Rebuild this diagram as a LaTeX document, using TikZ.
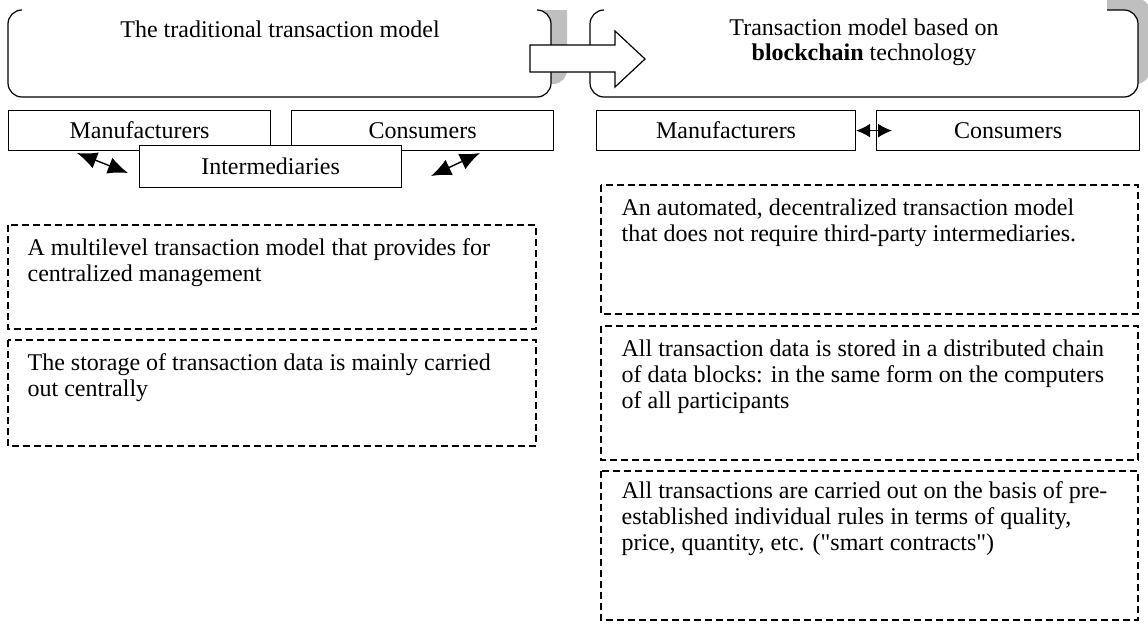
\documentclass[tikz,border=0pt]{standalone}
\usepackage{fontspec}
\setmainfont{Liberation Serif}
\usetikzlibrary{arrows.meta}

\begin{document}
\begin{tikzpicture}[x = 1pt, y = -1pt, line width = 1.2pt,
  plainbox/.style = {draw, fill = white, minimum height = 40pt, inner sep = 0pt, anchor = north west},
  notebox/.style = {dash pattern = on 7pt off 4pt},
  notetext/.style = {align = left, inner sep = 0pt, anchor = north west},
  twoway/.style = {{Latex[length = 20pt, width = 17pt]}-{Latex[length = 20pt, width = 17pt]}, line width = 1.4pt},
  font = \fontsize{24}{26}\selectfont]
\useasboundingbox (0, 0) rectangle (1148, 629);
% shadows of the two headers
\begin{scope}
\clip (0, 10) rectangle (1148, 629) (1107, 0) rectangle (1148, 10);
\fill[black!25, rounded corners = 14pt] (23, -2) rectangle (567, 84);
\fill[black!25, rounded corners = 14pt] (605, -2) rectangle (1150, 84);
\end{scope}
% headers
\fill[white, rounded corners = 14pt] (8, 10) rectangle (551, 97);
\draw[rounded corners = 14pt] (22, 10) -- (8, 10) -- (8, 97) -- (551, 97) -- (551, 10) -- (537, 10);
\fill[white, rounded corners = 14pt] (590, 10) rectangle (1138, 97);
\draw[rounded corners = 14pt] (604, 10) -- (590, 10) -- (590, 97) -- (1138, 97) -- (1138, 10) -- (1107, 10);
\node (old) at (280, 29) {The traditional transaction model};
\node[align = center, font = \fontsize{24}{25}\selectfont] (new) at (864, 42) {Transaction model based on\\\textbf{blockchain} technology};
\draw[fill = white] (530, 45) -- (615, 45) -- (615, 31) -- (645, 59) -- (615, 87) -- (615, 72) -- (530, 72) -- cycle;
% participants
\node[plainbox, minimum width = 262pt] (lman) at (8, 110) {Manufacturers};
\node[plainbox, minimum width = 262pt] (lcon) at (291, 110) {Consumers};
\node[plainbox, minimum width = 262pt, minimum height = 42pt] (lmid) at (139, 145) {Intermediaries};
\node[plainbox, minimum width = 259pt] (rman) at (596, 110) {Manufacturers};
\node[plainbox, minimum width = 263pt] (rcon) at (876, 110) {Consumers};
\coordinate (la) at (77, 153);
\coordinate (lb) at (128, 173);
\coordinate (lc) at (431, 176);
\coordinate (ld) at (480, 153);
\coordinate (re) at ([xshift = 16pt] rcon.west);
\draw[twoway] (la) -- (lb);
\draw[twoway] (lc) -- (ld);
\draw[{Latex[length = 14pt, width = 14pt]}-{Latex[length = 14pt, width = 14pt]}, line width = 1.4pt] (rman.east) -- (re);
% features
\draw[notebox] (8, 225) rectangle (536, 329);
\draw[notebox] (8, 340) rectangle (536, 446);
\draw[notebox] (601, 185) rectangle (1138, 314);
\draw[notebox] (601, 326) rectangle (1138, 460);
\draw[notebox] (601, 471) rectangle (1138, 620);
\node[notetext] (l1) at (27, 238) {A multilevel transaction model that provides for\\centralized management};
\node[notetext] (l2) at (27, 353) {The storage of transaction data is mainly carried\\out centrally};
\node[notetext] (r1) at (621, 198) {An automated, decentralized transaction model\\that does not require third-party intermediaries.};
\node[notetext] (r2) at (621, 339) {All transaction data is stored in a distributed chain\\of data blocks: in the same form on the computers\\of all participants};
\node[notetext] (r3) at (621, 481) {All transactions are carried out on the basis of pre-\\established individual rules in terms of quality,\\price, quantity, etc. (\textquotedbl smart contracts\textquotedbl)};
\end{tikzpicture}
\end{document}
